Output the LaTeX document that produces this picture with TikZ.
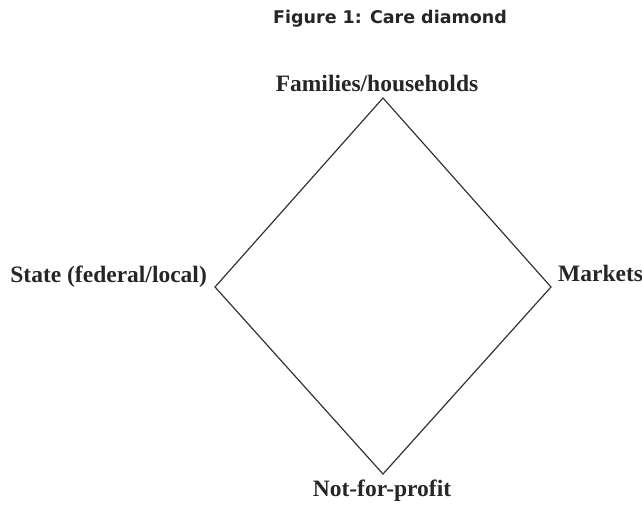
\documentclass[tikz,border=0pt]{standalone}
\usepackage{fontspec}
\setmainfont{Liberation Serif}
\newfontfamily\titlefont{DejaVu Sans}
\begin{document}
\begin{tikzpicture}[x=1pt,y=-1pt,
  lbl/.style={font=\fontsize{23.5}{26}\selectfont\bfseries, text=black!85, inner sep=0pt},
  edge/.style={draw=black!80, line width=1.2pt, line join=miter}]
\useasboundingbox (0,0) rectangle (642,504);
\node[font=\titlefont\fontsize{17.5}{20}\selectfont\bfseries, text=black!85, inner sep=0pt, anchor=base] (title) at (390,23) {Figure 1: Care diamond};
\coordinate (T) at (383,98);
\coordinate (L) at (215,287);
\coordinate (R) at (551,287);
\coordinate (B) at (383,474);
\draw[edge] (T) -- (R) -- (B) -- (L) -- cycle;
\node[lbl, anchor=base] (fam) at (377,91) {Families/households};
\node[lbl, anchor=base east] (state) at (207,282) {State (federal/local)};
\node[lbl, anchor=base west] (mkt) at (558,281) {Markets};
\node[lbl, anchor=base] (nfp) at (382,496) {Not-for-profit};
\end{tikzpicture}
\end{document}
